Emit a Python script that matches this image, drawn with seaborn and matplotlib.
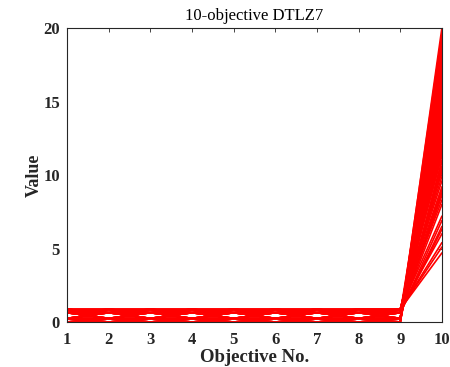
import numpy as np
import pandas as pd
import matplotlib
matplotlib.use("Agg")
import matplotlib.pyplot as plt
import seaborn as sns

sns.set_theme(style="white")
plt.rcParams["font.family"] = ["Liberation Serif", "DejaVu Serif"]

objectives = [1, 2, 3, 4, 5, 6, 7, 8, 9, 10]

# Objectives 1..9 of each solution (two disjoint regions: 0-0.25 and 0.63-0.86)
f1_9 = [
    [0.00, 0.00, 0.00, 0.00, 0.00, 0.00, 0.00, 0.00, 0.00],
    [0.86, 0.63, 0.86, 0.63, 0.86, 0.63, 0.86, 0.63, 0.86],
    [0.63, 0.86, 0.63, 0.86, 0.63, 0.86, 0.63, 0.86, 0.63],
    [0.25, 0.00, 0.25, 0.00, 0.25, 0.00, 0.25, 0.00, 0.25],
    [0.00, 0.25, 0.00, 0.25, 0.00, 0.25, 0.00, 0.25, 0.00],
    [0.63, 0.25, 0.63, 0.25, 0.63, 0.25, 0.63, 0.25, 0.63],
    [0.25, 0.63, 0.25, 0.63, 0.25, 0.63, 0.25, 0.63, 0.25],
    [0.86, 0.63, 0.86, 0.63, 0.86, 0.63, 0.86, 0.63, 0.63],
    [0.63, 0.86, 0.63, 0.86, 0.63, 0.86, 0.63, 0.86, 0.86],
    [0.25, 0.00, 0.25, 0.00, 0.25, 0.00, 0.25, 0.00, 0.00],
    [0.00, 0.25, 0.00, 0.25, 0.00, 0.25, 0.00, 0.25, 0.25],
    [0.63, 0.86, 0.63, 0.86, 0.63, 0.86, 0.63, 0.86, 0.86],
    [0.86, 0.63, 0.86, 0.63, 0.86, 0.63, 0.86, 0.63, 0.86],
    [0.86, 0.86, 0.86, 0.86, 0.86, 0.86, 0.86, 0.86, 0.86],
    [0.63, 0.63, 0.63, 0.63, 0.63, 0.63, 0.63, 0.63, 0.63],
    [0.25, 0.25, 0.25, 0.25, 0.25, 0.25, 0.25, 0.25, 0.25],
    [0.00, 0.00, 0.00, 0.00, 0.00, 0.00, 0.00, 0.00, 0.25],
    [0.86, 0.63, 0.86, 0.63, 0.86, 0.63, 0.86, 0.63, 0.25],
    [0.63, 0.86, 0.63, 0.86, 0.63, 0.86, 0.63, 0.86, 0.63],
    [0.25, 0.00, 0.25, 0.00, 0.25, 0.00, 0.25, 0.00, 0.25],
    [0.00, 0.25, 0.00, 0.25, 0.00, 0.25, 0.00, 0.25, 0.63],
    [0.63, 0.25, 0.63, 0.25, 0.63, 0.25, 0.63, 0.25, 0.00],
    [0.25, 0.63, 0.25, 0.63, 0.25, 0.63, 0.25, 0.63, 0.86],
    [0.86, 0.63, 0.86, 0.63, 0.86, 0.63, 0.86, 0.63, 0.63],
    [0.63, 0.86, 0.63, 0.86, 0.63, 0.86, 0.63, 0.86, 0.86],
    [0.63, 0.25, 0.63, 0.25, 0.63, 0.25, 0.63, 0.25, 0.25],
    [0.25, 0.63, 0.25, 0.63, 0.25, 0.63, 0.25, 0.63, 0.63],
    [0.86, 0.63, 0.86, 0.63, 0.86, 0.63, 0.86, 0.63, 0.86],
    [0.63, 0.86, 0.63, 0.86, 0.63, 0.86, 0.63, 0.86, 0.63],
    [0.86, 0.86, 0.86, 0.86, 0.86, 0.86, 0.86, 0.86, 0.63],
    [0.63, 0.63, 0.63, 0.63, 0.63, 0.63, 0.63, 0.63, 0.86],
    [0.25, 0.25, 0.25, 0.25, 0.25, 0.25, 0.25, 0.25, 0.63],
    [0.00, 0.00, 0.00, 0.00, 0.00, 0.00, 0.00, 0.00, 0.00],
    [0.25, 0.63, 0.25, 0.63, 0.25, 0.63, 0.25, 0.63, 0.25],
    [0.63, 0.25, 0.63, 0.25, 0.63, 0.25, 0.63, 0.25, 0.63],
    [0.25, 0.00, 0.25, 0.00, 0.25, 0.00, 0.25, 0.00, 0.00],
    [0.00, 0.25, 0.00, 0.25, 0.00, 0.25, 0.00, 0.25, 0.25],
    [0.63, 0.63, 0.63, 0.63, 0.63, 0.63, 0.63, 0.63, 0.25],
    [0.63, 0.25, 0.63, 0.25, 0.63, 0.25, 0.63, 0.25, 0.00],
    [0.63, 0.86, 0.63, 0.86, 0.63, 0.86, 0.63, 0.86, 0.63],
    [0.25, 0.63, 0.25, 0.63, 0.25, 0.63, 0.25, 0.63, 0.86],
    [0.25, 0.63, 0.25, 0.63, 0.25, 0.63, 0.25, 0.63, 0.63],
    [0.00, 0.25, 0.00, 0.25, 0.00, 0.25, 0.00, 0.25, 0.00],
    [0.86, 0.63, 0.86, 0.63, 0.86, 0.63, 0.86, 0.63, 0.63],
    [0.63, 0.63, 0.63, 0.63, 0.63, 0.63, 0.63, 0.63, 0.86],
    [0.86, 0.86, 0.86, 0.86, 0.86, 0.86, 0.86, 0.86, 0.86],
    [0.86, 0.86, 0.86, 0.86, 0.86, 0.86, 0.86, 0.86, 0.63],
    [0.25, 0.25, 0.25, 0.25, 0.25, 0.25, 0.25, 0.25, 0.00],
    [0.00, 0.00, 0.00, 0.00, 0.00, 0.00, 0.00, 0.00, 0.25],
    [0.86, 0.63, 0.86, 0.63, 0.86, 0.63, 0.86, 0.63, 0.25],
    [0.63, 0.25, 0.63, 0.25, 0.63, 0.25, 0.63, 0.25, 0.25],
    [0.25, 0.00, 0.25, 0.00, 0.25, 0.00, 0.25, 0.00, 0.25],
    [0.00, 0.25, 0.00, 0.25, 0.00, 0.25, 0.00, 0.25, 0.63],
    [0.63, 0.25, 0.63, 0.25, 0.63, 0.25, 0.63, 0.25, 0.63],
    [0.25, 0.63, 0.25, 0.63, 0.25, 0.63, 0.25, 0.63, 0.25],
    [0.86, 0.63, 0.86, 0.63, 0.86, 0.63, 0.86, 0.63, 0.86],
    [0.63, 0.86, 0.63, 0.86, 0.63, 0.86, 0.63, 0.86, 0.86],
    [0.25, 0.25, 0.25, 0.25, 0.25, 0.25, 0.25, 0.25, 0.25],
    [0.25, 0.00, 0.25, 0.00, 0.25, 0.00, 0.25, 0.00, 0.00],
    [0.63, 0.86, 0.63, 0.86, 0.63, 0.86, 0.63, 0.86, 0.63],
    [0.63, 0.63, 0.63, 0.63, 0.63, 0.63, 0.63, 0.63, 0.63],
    [0.86, 0.86, 0.86, 0.86, 0.86, 0.86, 0.86, 0.86, 0.86],
    [0.63, 0.63, 0.63, 0.63, 0.63, 0.63, 0.63, 0.63, 0.86],
    [0.25, 0.25, 0.25, 0.25, 0.25, 0.25, 0.25, 0.25, 0.63],
]

# Objective 10 of each solution
f10 = [
    20.0, 11.6, 13.2, 17.9, 18.3, 14.4, 15.0, 10.6, 11.8, 17.1,
    17.5, 8.3, 9.2, 4.7, 6.5, 16.2, 19.6, 12.4, 13.6, 15.4,
    15.8, 14.7, 12.0, 12.8, 10.2, 16.6, 14.0, 9.6, 8.8, 6.9,
    7.2, 16.0, 19.2, 12.1, 14.2, 17.4, 17.7, 11.0, 15.2, 10.4,
    12.6, 13.4, 16.8, 8.6, 9.9, 5.1, 6.3, 16.4, 18.8, 10.9,
    13.0, 18.6, 18.0, 13.8, 14.6, 11.3, 11.4, 16.9, 16.7, 8.0,
    9.0, 5.4, 6.0, 15.6,
]

rows = []
for sid, (head, last) in enumerate(zip(f1_9, f10)):
    for obj, val in zip(objectives, head + [last]):
        rows.append({"solution": sid, "objective": obj, "value": val})
df = pd.DataFrame(rows)

fig = plt.figure(figsize=(4.5, 3.67), dpi=100)
ax = fig.add_axes([0.149, 0.1226, 0.833, 0.801])

sns.lineplot(data=df, x="objective", y="value", units="solution",
             estimator=None, color="#ff0000", linewidth=1.2, ax=ax,
             legend=False)

ax.set_xlim(1, 10)
ax.set_ylim(0, 20)
ax.set_xticks(objectives)
ax.set_yticks([0, 5, 10, 15, 20])
ax.tick_params(direction="in", top=True, right=True, length=3,
               width=0.6, color="#262626", labelsize=12)
ax.tick_params(axis="x", pad=7)
ax.tick_params(axis="y", pad=5)
for lab in ax.get_xticklabels() + ax.get_yticklabels():
    lab.set_fontweight("bold")
    lab.set_color("#262626")
for sp in ax.spines.values():
    sp.set_visible(True)
    sp.set_color("#262626")
    sp.set_linewidth(0.8)

ax.set_xlabel("Objective No.", fontsize=13.5, fontweight="bold", color="#262626", labelpad=1)
ax.set_ylabel("Value", fontsize=13, fontweight="bold", color="#262626", labelpad=0.5)
ax.set_title("10-objective DTLZ7", fontsize=12, color="#000000", pad=6)

fig.savefig("out.png", dpi=100)
